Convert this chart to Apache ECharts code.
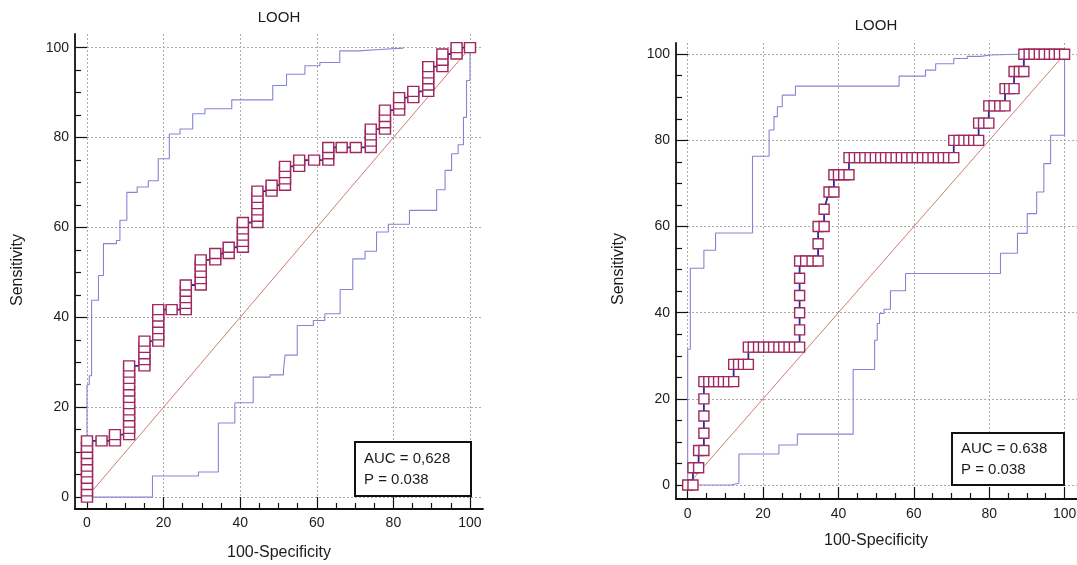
<!DOCTYPE html>
<html><head><meta charset="utf-8">
<script src="https://cdn.jsdelivr.net/npm/echarts@6/dist/echarts.min.js"></script>
<style>html,body{margin:0;padding:0;background:#fff}#c{width:1077px;height:565px}</style>
</head><body><div id="c"></div>
<script>
// ---- tick values ----
const majorTicks = [0, 20, 40, 60, 80, 100];
const minorTicks = [5, 10, 15, 25, 30, 35, 45, 50, 55, 65, 70, 75, 85, 90, 95];
const diagonal = [[0, 0], [100, 100]];

// ---- left panel (AUC = 0,628) ----
const leftRoc = [
  [0,0],[0,1.4],[0,2.8],[0,4.2],[0,5.6],[0,6.9],[0,8.3],[0,9.7],[0,11.1],[0,12.5],
  [3.8,12.5],
  [7.3,12.5],[7.3,13.9],
  [11,13.9],[11,15.3],[11,16.7],[11,18.1],[11,19.4],[11,20.8],[11,22.2],[11,23.6],[11,25],[11,26.4],[11,27.8],[11,29.2],
  [15,29.2],[15,30.6],[15,31.9],[15,33.3],[15,34.7],
  [18.6,34.7],[18.6,36.1],[18.6,37.5],[18.6,38.9],[18.6,40.3],[18.6,41.7],
  [22.1,41.7],
  [25.8,41.7],[25.8,43.1],[25.8,44.4],[25.8,45.8],[25.8,47.2],
  [29.7,47.2],[29.7,48.6],[29.7,50],[29.7,51.4],[29.7,52.8],
  [33.5,52.8],[33.5,54.2],
  [37,54.2],[37,55.6],
  [40.7,55.6],[40.7,56.9],[40.7,58.3],[40.7,59.7],[40.7,61.1],
  [44.5,61.1],[44.5,62.5],[44.5,63.9],[44.5,65.3],[44.5,66.7],[44.5,68.1],
  [48.2,68.1],[48.2,69.4],
  [51.7,69.4],[51.7,70.8],[51.7,72.2],[51.7,73.6],
  [55.4,73.6],[55.4,75],
  [59.3,75],
  [63,75],[63,76.4],[63,77.8],
  [66.5,77.8],
  [70.2,77.8],
  [74.1,77.8],[74.1,79.2],[74.1,80.6],[74.1,81.9],
  [77.8,81.9],[77.8,83.3],[77.8,84.7],[77.8,86.1],
  [81.5,86.1],[81.5,87.5],[81.5,88.9],
  [85.2,88.9],[85.2,90.3],
  [89.1,90.3],[89.1,91.7],[89.1,93.1],[89.1,94.4],[89.1,95.8],
  [92.8,95.8],[92.8,97.2],[92.8,98.6],
  [96.5,98.6],[96.5,100],
  [100,100]
];
const leftUpper = [
  [0,0],[0,25],[0.6,27],[1.2,43.8],[3,49.3],[4.3,56.4],[7.7,57.1],[8.6,61.6],[10.4,67.8],
  [13.1,69],[16,70.4],[18.6,75.3],[21.5,80.8],[24.3,81.9],[27.6,85.3],[30.8,86.4],[37.8,88.4],
  [48.5,91.6],[52.1,94.1],[56.9,96],[60.8,96.7],[66,99.3],[70.8,99.6],[76.5,99.9],[82.6,99.9]
];
const leftLower = [
  [0,0],[17.1,4.7],[29.1,5.6],[34.3,16.5],[38.6,21],[43.4,26.7],[47.8,27.2],[51.3,28.2],
  [51.7,31.6],[54.9,38.2],[59.1,39.3],[62.1,40.8],[66.1,46.2],[69.4,53],[72.6,54.7],[75.6,59],
  [78.7,60.7],[84.2,63.8],[91.3,68.4],[93.5,72.7],[95.2,76.4],[96.9,78.4],[98.3,84.5],[99.1,92.7],[100,100]
];

// ---- right panel (AUC = 0.638) ----
const rightRoc = [
  [0,0],[1.4,0],
  [1.4,4],[2.9,4],
  [2.9,8],[4.3,8],
  [4.3,12],[4.3,16],[4.3,20],
  [4.3,24],[5.6,24],[6.9,24],[8.2,24],[9.5,24],[10.8,24],[12.2,24],
  [12.2,28],[13.5,28],[14.8,28],[16.1,28],
  [16.1,32],[17.4,32],[18.8,32],[20.1,32],[21.5,32],[22.8,32],[24.2,32],[25.5,32],[26.9,32],[28.3,32],[29.7,32],
  [29.7,36],[29.7,40],[29.7,44],[29.7,48],
  [29.7,52],[31.3,52],[33,52],[34.6,52],
  [34.6,56],
  [34.6,60],[36.2,60],
  [36.2,64],
  [37.5,68],[38.8,68],
  [38.8,72],[40,72],[41.4,72],[42.8,72],
  [42.8,76],[44.2,76],[45.6,76],[47,76],[48.4,76],[49.8,76],[51.2,76],[52.5,76],[53.9,76],[55.3,76],
  [56.7,76],[58.1,76],[59.5,76],[60.9,76],[62.3,76],[63.7,76],[65.1,76],[66.5,76],[67.8,76],[69.2,76],[70.6,76],
  [70.6,80],[72,80],[73.3,80],[74.6,80],[75.9,80],[77.2,80],
  [77.2,84],[78.5,84],[79.9,84],
  [79.9,88],[81.3,88],[82.8,88],[84.2,88],
  [84.2,92],[85.4,92],[86.6,92],
  [86.6,96],[88,96],[89.2,96],
  [89.2,100],[90.6,100],[91.9,100],[93.3,100],[94.6,100],[96,100],[97.3,100],[98.6,100],[100,100]
];
const rightUpper = [
  [0,0],[0,31.5],[0.7,50.3],[4.3,54.5],[7.4,58.5],[17.2,76.3],[21.6,82.4],[22.9,85.5],[23.8,87.8],
  [25.1,90.5],[28.6,92.6],[56.1,94.9],[63.1,96.3],[65.8,97.8],[70.6,99],[74.2,99.5],[77.7,99.8],[80.4,100],[87.5,100]
];
const rightLower = [
  [0,0],[11.5,0.4],[13.6,7.2],[24.2,9.3],[29.1,11.8],[43.9,26.8],[49.6,33.6],[50.3,37.5],[50.9,39.8],
  [52.1,40.8],[53.8,45.1],[57.8,49.1],[83,53.8],[87.5,58.4],[90.1,63],[92.6,68],[94.5,74.6],[96.3,81.2],[100,100]
];

// ---- texts ----
const titleText = 'LOOH';
const xName = '100-Specificity';
const yName = 'Sensitivity';
const leftStats = ['AUC = 0,628', 'P = 0.038'];
const rightStats = ['AUC = 0.638', 'P = 0.038'];

// ---- styling helpers ----
const FONT = 'Liberation Sans, Arial, sans-serif';
const INK = '#1c1c1c';
const axisLineStyle = { color: '#111', width: 1.8 };
const tickStyle = { color: '#111', width: 1.2 };
const gridLineStyle = { color: '#aaaaaa', width: 1, type: [2, 2] };

function mainAxis(dim, gridIndex, min, max, margin) {
  return {
    type: 'value', gridIndex, min, max,
    position: dim === 'x' ? 'bottom' : 'left',
    axisLine: { show: true, onZero: false, lineStyle: axisLineStyle },
    axisTick: { show: true, inside: true, length: 12, customValues: majorTicks, lineStyle: tickStyle },
    minorTick: { show: false },
    axisLabel: { show: true, customValues: majorTicks, margin, fontSize: 14, fontFamily: FONT, color: INK },
    splitLine: { show: true, lineStyle: gridLineStyle }
  };
}
function minorAxis(dim, gridIndex, min, max) {
  return {
    type: 'value', gridIndex, min, max,
    position: dim === 'x' ? 'bottom' : 'left',
    axisLine: { show: false, onZero: false },
    axisTick: { show: true, inside: true, length: 6, customValues: minorTicks, lineStyle: tickStyle },
    minorTick: { show: false },
    axisLabel: { show: false },
    splitLine: { show: false }
  };
}

const L = { left: 75, top: 34, width: 408, height: 475, xMin: -3.13, xMax: 103.4, yMin: -2.65, yMax: 103.05 };
const R = { left: 676, top: 43, width: 401, height: 456, xMin: -3.1, xMax: 103.3, yMin: -3.25, yMax: 102.6 };

function gridOf(p) {
  return { left: p.left, top: p.top, width: p.width, height: p.height, containLabel: false, outerBoundsMode: 'none' };
}

function panelSeries(xi, yi, roc, upper, lower, boxSize) {
  return [
    { type: 'line', xAxisIndex: xi, yAxisIndex: yi, data: upper, step: 'end', symbol: 'none', silent: true,
      lineStyle: { color: '#8585d6', width: 1.1 }, z: 2 },
    { type: 'line', xAxisIndex: xi, yAxisIndex: yi, data: lower, step: 'end', symbol: 'none', silent: true,
      lineStyle: { color: '#8585d6', width: 1.1 }, z: 2 },
    { type: 'line', xAxisIndex: xi, yAxisIndex: yi, data: diagonal, symbol: 'none', silent: true,
      lineStyle: { color: '#c97e70', width: 1 }, z: 3 },
    { type: 'line', xAxisIndex: xi, yAxisIndex: yi, data: roc, symbol: 'rect', symbolSize: boxSize,
      showAllSymbol: true, silent: true,
      lineStyle: { color: '#2a2aa8', width: 1.8 },
      itemStyle: { color: '#ffffff', borderColor: '#a0285c', borderWidth: 1.4 }, z: 4 }
  ];
}

function txt(x, y, text, size, extra) {
  return Object.assign({ type: 'text', x, y, z: 100,
    style: { text, fontSize: size, fontFamily: FONT, fill: INK, align: 'center', verticalAlign: 'middle' } }, extra || {});
}
function statBox(x, y, w, h, lines, tx, ty1, ty2) {
  return [
    { type: 'rect', shape: { x, y, width: w, height: h }, z: 90,
      style: { fill: '#fff', stroke: '#111', lineWidth: 2 } },
    { type: 'text', x: tx, y: ty1, z: 100, style: { text: lines[0], fontSize: 15, fontFamily: FONT, fill: INK, align: 'left', verticalAlign: 'middle' } },
    { type: 'text', x: tx, y: ty2, z: 100, style: { text: lines[1], fontSize: 15, fontFamily: FONT, fill: INK, align: 'left', verticalAlign: 'middle' } }
  ];
}

const chart = echarts.init(document.getElementById('c'), null, { renderer: 'canvas' });
chart.setOption({
  animation: false,
  backgroundColor: '#ffffff',
  grid: [gridOf(L), gridOf(L), gridOf(R), gridOf(R)],
  xAxis: [
    mainAxis('x', 0, L.xMin, L.xMax, 7),
    minorAxis('x', 1, L.xMin, L.xMax),
    mainAxis('x', 2, R.xMin, R.xMax, 8),
    minorAxis('x', 3, R.xMin, R.xMax)
  ],
  yAxis: [
    mainAxis('y', 0, L.yMin, L.yMax, 6),
    minorAxis('y', 1, L.yMin, L.yMax),
    mainAxis('y', 2, R.yMin, R.yMax, 6),
    minorAxis('y', 3, R.yMin, R.yMax)
  ],
  series: [].concat(
    panelSeries(0, 0, leftRoc, leftUpper, leftLower, [11, 10]),
    panelSeries(2, 2, rightRoc, rightUpper, rightLower, [10, 10])
  ),
  graphic: [
    txt(279, 18, titleText, 15),
    txt(876, 26, titleText, 15),
    txt(279, 553, xName, 16),
    txt(876, 541, xName, 16),
    txt(18, 270, yName, 16, { rotation: Math.PI / 2 }),
    txt(619, 269, yName, 16, { rotation: Math.PI / 2 })
  ].concat(
    statBox(355, 442, 116, 54, leftStats, 364, 459, 480),
    statBox(952, 433, 112, 52, rightStats, 961, 449, 470)
  )
});
</script>
</body></html>
